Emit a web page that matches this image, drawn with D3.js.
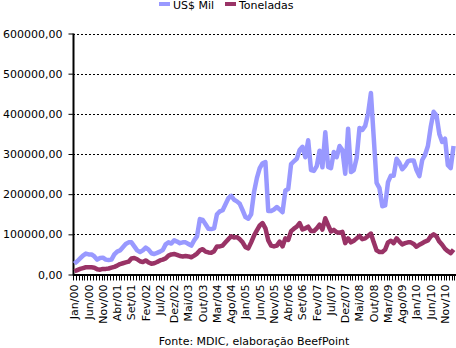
<!DOCTYPE html>
<html>
<head>
<meta charset="utf-8">
<script src="https://cdn.jsdelivr.net/npm/d3@7"></script>
<style>
  html, body { margin: 0; padding: 0; background: #fff; }
  svg { display: block; }
  text { font-family: "DejaVu Sans", Verdana, sans-serif; font-size: 11px; fill: #000; }
</style>
</head>
<body>
<svg id="chart" width="456" height="348"></svg>
<script>
// ---- data ----
const monthNames = ["Jan","Fev","Mar","Abr","Mai","Jun","Jul","Ago","Set","Out","Nov","Dez"];
const years = ["00","01","02","03","04","05","06","07","08","09","10","11"];
const categories = [];
years.forEach(yy => monthNames.forEach(m => categories.push(m + "/" + yy)));
categories.length = 134; // Jan/00 .. Fev/11

const usdMil = [
  27000,33000,40000,47000,52000,50000,50000,45000,37000,41000,
  42000,37000,36000,37000,50000,57000,60000,68000,76000,80000,
  80000,70000,60000,56000,60000,67000,62000,53000,51000,54000,
  57000,61000,75000,80000,77000,85000,82000,78000,80000,80000,
  76000,72000,85000,95000,138000,136000,125000,114000,113000,115000,
  150000,157000,160000,175000,190000,196000,186000,182000,176000,160000,
  143000,139000,150000,205000,240000,265000,277000,280000,158000,158000,
  162000,168000,162000,155000,209000,213000,275000,282000,288000,310000,
  318000,292000,334000,260000,258000,270000,308000,267000,354000,268000,
  265000,305000,292000,320000,310000,251000,363000,255000,260000,290000,
  365000,360000,370000,400000,452000,340000,228000,215000,170000,172000,
  230000,246000,246000,288000,278000,262000,270000,282000,284000,284000,
  260000,245000,285000,298000,320000,368000,405000,396000,350000,330000,
  338000,272000,265000,320000
];
const toneladas = [
  8000,11000,14000,16000,18000,18000,18000,17000,13000,12000,
  14000,14000,15000,17000,19000,22000,26000,28000,30000,32000,
  40000,41000,38000,33000,31000,35000,30000,27000,28000,31000,
  35000,37000,40000,47000,50000,51000,49000,46000,45000,46000,
  45000,43000,47000,52000,60000,63000,57000,55000,54000,58000,
  70000,70000,72000,80000,88000,95000,92000,93000,88000,80000,
  68000,65000,80000,97000,110000,122000,128000,115000,85000,72000,
  70000,72000,82000,70000,90000,86000,108000,114000,119000,128000,
  112000,115000,119000,108000,108000,115000,124000,112000,140000,123000,
  107000,111000,105000,104000,106000,78000,90000,80000,84000,90000,
  96000,88000,90000,96000,102000,80000,60000,56000,56000,62000,
  80000,84000,78000,90000,82000,75000,78000,80000,80000,76000,
  69000,74000,78000,82000,85000,95000,100000,95000,82000,74000,
  64000,58000,53000,62000
];
const yTicks = [0,100000,200000,300000,400000,500000,600000];
const seriesNames = ["US$ Mil","Toneladas"];
const seriesColors = ["#9999FF","#993366"];
const sourceText = "Fonte: MDIC, elaboração BeefPoint";

// ---- chart ----
const svg = d3.select("#chart");
const L = 73, R = 455, T = 33.5, B = 274.5;

const x = d3.scaleBand().domain(categories).range([L, R]).padding(0);
const y = d3.scaleLinear().domain([0, 600000]).range([B, T]);
const ptBR = d3.formatLocale({decimal: ",", thousands: ".", grouping: [3], currency: ["R$", ""]});
const fmt = ptBR.format(".2f");

// gridlines
svg.append("g").selectAll("line")
  .data(yTicks.filter(v => v > 0))
  .join("line")
  .attr("x1", L).attr("x2", R)
  .attr("y1", d => Math.round(y(d)) + 0.5).attr("y2", d => Math.round(y(d)) + 0.5)
  .attr("stroke", "#000").attr("stroke-width", 1)
  .attr("stroke-dasharray", "2,2");

// y axis
const yAxis = svg.append("g")
  .attr("transform", `translate(${L + 0.5},0)`)
  .call(d3.axisLeft(y).tickValues(yTicks).tickSize(5).tickSizeOuter(0).tickPadding(6).tickFormat(fmt));
yAxis.select(".domain").attr("stroke", "#000").attr("stroke-width", 2).attr("d", `M0,${T}V${B + 1}`);
yAxis.selectAll(".tick line").attr("stroke", "#000");
yAxis.selectAll(".tick text").attr("fill", "#000");
yAxis.attr("font-family", null).attr("font-size", null);

// x axis: tick marks at category boundaries
const xg = svg.append("g");
xg.append("line").attr("x1", L).attr("x2", R + 1).attr("y1", B + 0.5).attr("y2", B + 0.5)
  .attr("stroke", "#000").attr("stroke-width", 2);
xg.selectAll("line.tk")
  .data(categories.concat(["__end"]))
  .join("line").attr("class", "tk")
  .attr("x1", d => Math.round(d === "__end" ? R - 1 : x(d)) + 0.5)
  .attr("x2", d => Math.round(d === "__end" ? R - 1 : x(d)) + 0.5)
  .attr("y1", B).attr("y2", B + 6)
  .attr("stroke", "#000");

// x labels every 5 months (rotated)
const labelCats = categories.filter((c, i) => i % 5 === 0 && i <= 130);
const xAxis = svg.append("g")
  .attr("transform", `translate(0,${B + 8})`)
  .call(d3.axisBottom(x).tickValues(labelCats).tickSize(0).tickPadding(0));
xAxis.select(".domain").remove();
xAxis.attr("font-family", null).attr("font-size", null);
xAxis.selectAll(".tick text")
  .attr("fill", "#000")
  .attr("transform", "rotate(-90)")
  .attr("text-anchor", "end")
  .attr("x", -2).attr("y", 0).attr("dy", "0.35em");

// lines
const data = [usdMil, toneladas];
const line = d3.line()
  .x((d, i) => x(categories[i]) + x.bandwidth() / 2)
  .y(d => y(d));
svg.append("g").selectAll("path")
  .data(data)
  .join("path")
  .attr("d", d => line(d))
  .attr("fill", "none")
  .attr("stroke", (d, i) => seriesColors[i])
  .attr("stroke-width", 4.5)
  .attr("stroke-linejoin", "round");

// legend
const legendX = [159, 225];
const lg = svg.append("g");
seriesNames.forEach((name, i) => {
  lg.append("rect").attr("x", legendX[i]).attr("y", 2).attr("width", 11).attr("height", 4).attr("fill", seriesColors[i]);
  lg.append("text").attr("x", legendX[i] + 14).attr("y", 9).text(name);
});

// source
svg.append("text").attr("x", 254).attr("y", 345).attr("text-anchor", "middle").text(sourceText);
</script>
</body>
</html>
